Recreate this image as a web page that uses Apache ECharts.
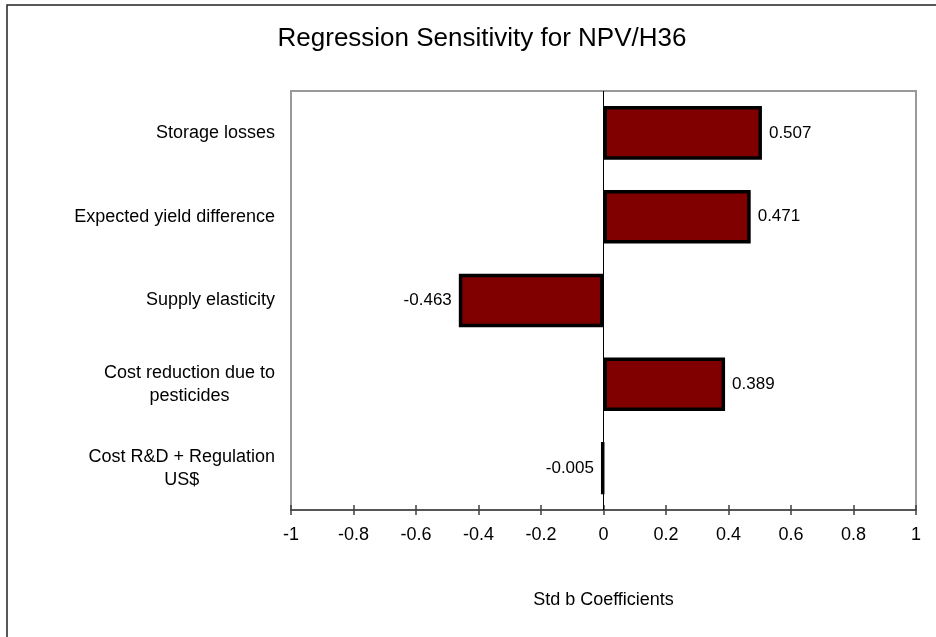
<!DOCTYPE html>
<html>
<head>
<meta charset="utf-8">
<script src="https://cdn.jsdelivr.net/npm/echarts@6/dist/echarts.min.js"></script>
<style>
  html, body { margin: 0; padding: 0; background: #fff; }
  #chart { width: 936px; height: 637px; }
</style>
</head>
<body>
<div id="chart"></div>
<script>
// inputs, top to bottom
const categories = [
  'Storage losses',
  'Expected yield difference',
  'Supply elasticity',
  'Cost reduction due to\npesticides',
  'Cost R&D + Regulation\nUS$',
];
const coefficients = [0.507, 0.471, -0.463, 0.389, -0.005];
const axisMin = -1;
const axisMax = 1;
const axisStep = 0.2;

const FONT = '"Liberation Sans", Arial, sans-serif';

const chart = echarts.init(document.getElementById('chart'));

const option = {
  animation: false,
  backgroundColor: '#fff',
  textStyle: { fontFamily: FONT, color: '#000' },
  title: {
    text: 'Regression Sensitivity for NPV/H36',
    left: 482,
    top: 26,
    textAlign: 'center',
    padding: 0,
    textStyle: { fontFamily: FONT, fontSize: 26, fontWeight: 'normal', color: '#000' },
  },
  // frame around the whole picture (runs off the right / bottom edge)
  graphic: [{
    type: 'rect',
    silent: true,
    z: -10,
    shape: { x: 7, y: 5, width: 1000, height: 1000 },
    style: { fill: 'none', stroke: '#222', lineWidth: 1.5 },
  }],
  grid: {
    left: 291,
    right: 20,
    top: 91,
    bottom: 127,
    show: true,
    borderColor: '#999',
    borderWidth: 2,
    backgroundColor: 'transparent',
  },
  xAxis: [{
    type: 'value',
    min: axisMin,
    max: axisMax,
    interval: axisStep,
    position: 'bottom',
    name: 'Std b Coefficients',
    nameLocation: 'middle',
    nameGap: 81,
    nameTextStyle: { fontFamily: FONT, fontSize: 18, color: '#000' },
    axisLine: { show: true, onZero: false, lineStyle: { color: '#404040', width: 1.5 } },
    axisTick: { show: true, length: 5, lineStyle: { color: '#404040', width: 1.5 } },
    axisLabel: { fontFamily: FONT, fontSize: 18, color: '#000', margin: 16 },
    splitLine: { show: false },
  }, {
    // second copy only for the inner half of the crossing ticks
    type: 'value',
    min: axisMin,
    max: axisMax,
    interval: axisStep,
    position: 'bottom',
    axisLine: { show: false, onZero: false },
    axisTick: { show: true, inside: true, length: 5, lineStyle: { color: '#404040', width: 1.5 } },
    axisLabel: { show: false },
    splitLine: { show: false },
  }],
  yAxis: {
    type: 'category',
    data: categories,
    inverse: true,
    position: 'left',
    axisLine: { show: false, onZero: false },
    axisTick: { show: false },
    splitLine: { show: false },
    axisLabel: {
      margin: 16,
      align: 'right',
      formatter: (v) => v.split('\n').map((s) => '{c|' + s + '}').join('\n'),
      rich: {
        c: { align: 'center', fontFamily: FONT, fontSize: 18, lineHeight: 23, color: '#000' },
      },
    },
  },
  series: [{
    type: 'bar',
    barWidth: '64%',
    itemStyle: { color: '#800000', borderColor: '#000', borderWidth: 3.5 },
    label: {
      show: true,
      position: 'right',
      distance: 7,
      fontFamily: FONT,
      fontSize: 17,
      color: '#000',
      formatter: (p) => p.value.toFixed(3),
    },
    // negative values get their label on the left side of the bar
    data: coefficients.map((v) => ({
      value: v,
      label: { position: v < 0 ? 'left' : 'right' },
    })),
    markLine: {
      silent: true,
      symbol: 'none',
      label: { show: false },
      lineStyle: { color: '#000', width: 1, type: 'solid' },
      data: [{ xAxis: 0 }],
    },
  }],
};

chart.setOption(option);
window.addEventListener('resize', () => { chart.resize(); });
</script>
</body>
</html>
